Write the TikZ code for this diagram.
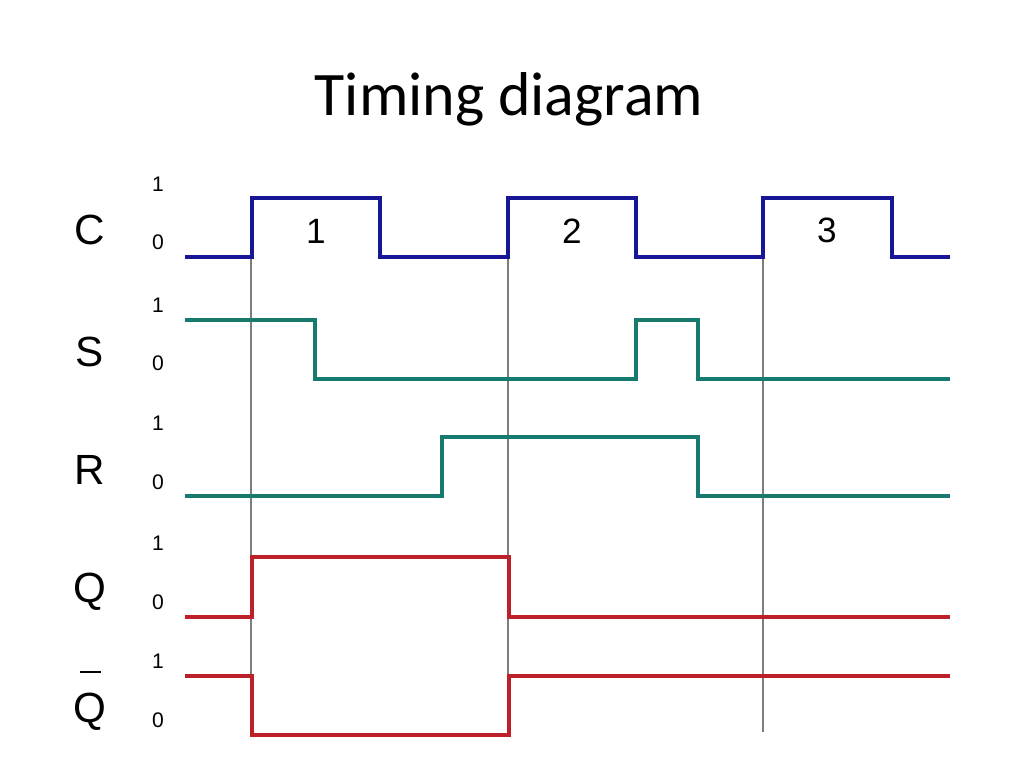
\documentclass[tikz,border=0pt]{standalone}
\usepackage{fontspec}
\setmainfont{Liberation Sans}
\newfontfamily\titlefont{Carlito}
\definecolor{clkblue}{RGB}{22,22,150}
\definecolor{inteal}{RGB}{22,122,110}
\definecolor{outred}{RGB}{190,32,42}
\definecolor{guide}{RGB}{125,125,125}

\begin{document}
\begin{tikzpicture}[x=0.01cm, y=-0.01cm,
	sig/.style={line width=0.04cm, line join=miter},
	siglabel/.style={font=\fontsize{12}{14}\selectfont, anchor=base},
	lvl/.style={font=\fontsize{6}{7}\selectfont},
	num/.style={font=\fontsize{10}{12}\selectfont}]
	\useasboundingbox (0,0) rectangle (1024,768);
	\node at (509,116) [anchor=base, font=\titlefont\fontsize{17.6}{21}\selectfont] (title) {Timing diagram};

	\node at (90,245) [siglabel] (C) {C};
	\node at (90,367) [siglabel] (S) {S};
	\node at (90,485) [siglabel] (R) {R};
	\node at (90,603) [siglabel] (Q) {Q};
	\node at (90,723) [siglabel] (Qb) {Q};
	\draw [line width=0.02cm] (80,672) -- (101,672);

	\node at (158,184) [lvl] (c1) {1};
	\node at (158,242) [lvl] (c0) {0};
	\node at (158,305) [lvl] (s1) {1};
	\node at (158,363) [lvl] (s0) {0};
	\node at (158,423) [lvl] (r1) {1};
	\node at (158,482) [lvl] (r0) {0};
	\node at (158,543) [lvl] (q1) {1};
	\node at (158,602) [lvl] (q0) {0};
	\node at (158,661) [lvl] (qb1) {1};
	\node at (158,720) [lvl] (qb0) {0};

	\draw [guide, line width=0.015cm] (251,257) -- (251,735);
	\draw [guide, line width=0.015cm] (508,257) -- (508,735);
	\draw [guide, line width=0.015cm] (763,257) -- (763,732);

	\draw [sig, clkblue] (185,257) -- (252,257) -- (252,198) -- (380,198) -- (380,257) -- (508,257) -- (508,198) -- (636,198) -- (636,257) -- (763,257) -- (763,198) -- (892,198) -- (892,257) -- (950,257);
	\draw [sig, inteal] (185,320) -- (315,320) -- (315,379) -- (636,379) -- (636,320) -- (698,320) -- (698,379) -- (950,379);
	\draw [sig, inteal] (185,496) -- (442,496) -- (442,437) -- (698,437) -- (698,496) -- (950,496);
	\draw [sig, outred] (185,617) -- (252,617) -- (252,557) -- (509,557) -- (509,617) -- (950,617);
	\draw [sig, outred] (185,676) -- (252,676) -- (252,735) -- (509,735) -- (509,676) -- (950,676);

	\node at (316,231) [num] (p1) {1};
	\node at (572,231) [num] (p2) {2};
	\node at (827,230) [num] (p3) {3};
\end{tikzpicture}
\end{document}
